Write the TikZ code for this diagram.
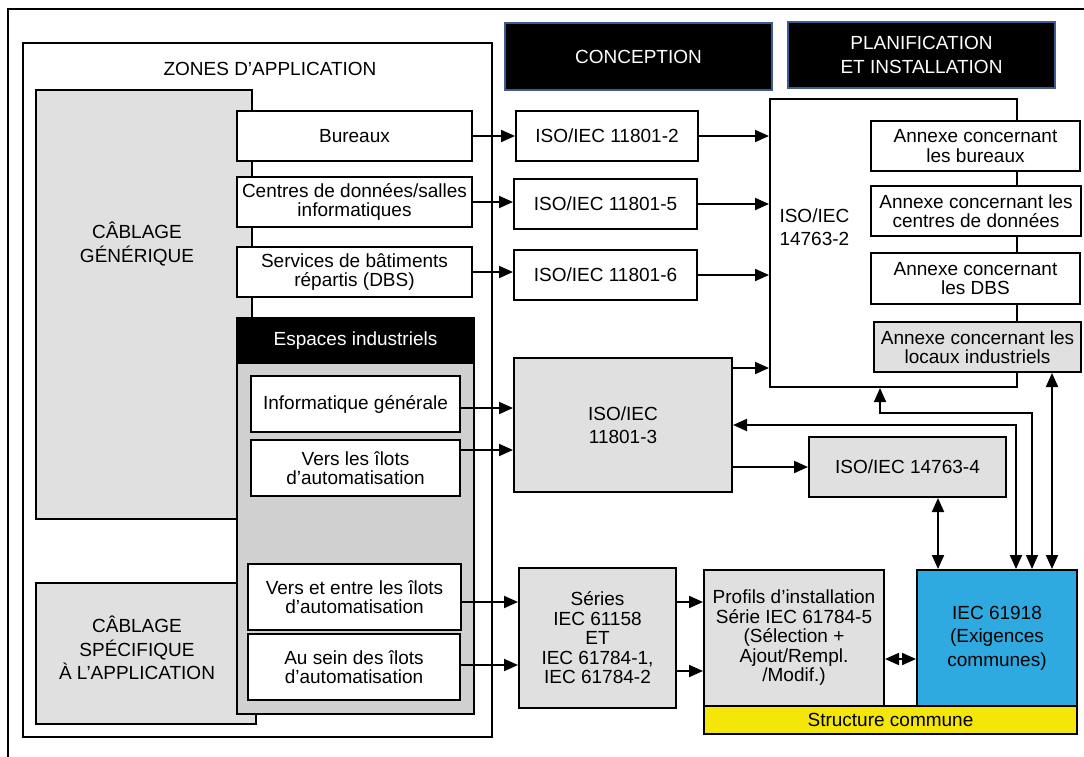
\documentclass[tikz,border=0pt]{standalone}
\usepackage{fontspec}
\setmainfont{Liberation Sans}
\usetikzlibrary{arrows.meta}
\definecolor{lgray}{HTML}{E0E0E0}
\definecolor{mgray}{HTML}{D0D0D0}
\definecolor{iecblue}{HTML}{2EAAE1}
\definecolor{ylw}{HTML}{F5E60A}
\definecolor{hdrblue}{HTML}{3E5C92}
\begin{document}
\begin{tikzpicture}[x=1pt,y=-1pt,font=\fontsize{19}{19.5}\selectfont]
\tikzset{Box/.style={draw,line width=2pt,inner sep=0pt,align=center}}
\tikzset{Airy/.style={font=\fontsize{19}{23.5}\selectfont}}
\tikzset{Head/.style={Box,fill=black,text=white,draw=hdrblue,line width=2pt}}
\tikzset{Arr/.style={line width=2pt,-{Triangle[length=14pt,width=12pt]}}}
\tikzset{DArr/.style={line width=2pt,{Triangle[length=14pt,width=12pt]}-{Triangle[length=14pt,width=12pt]}}}
\useasboundingbox (0,0) rectangle (1084,756);
\draw[line width=2pt] (8,9) rectangle (1100,775);
\node[Box,minimum width=469pt,minimum height=694pt] (zones) at (257.5,390) {};
\node (zonestxt) at (270,69) {ZONES D’APPLICATION};
\node[Box,fill=lgray,minimum width=216pt,minimum height=429pt] (gen) at (144,304.5) {};
\node[Airy,align=center] (gentxt) at (137,244) {CÂBLAGE\\GÉNÉRIQUE};
\node[Box,fill=lgray,minimum width=220pt,minimum height=141pt] (spec) at (146,653.5) {};
\node[Airy,align=center] (spectxt) at (137,648) {CÂBLAGE\\SPÉCIFIQUE\\À L’APPLICATION};
\node[Box,fill=mgray,minimum width=237pt,minimum height=351pt] (indbody) at (355.5,538.5) {};
\node[Box,fill=black,text=white,minimum width=237pt,minimum height=45pt] (indhead) at (355.5,340.5) {Espaces industriels};
\node[Box,fill=white,minimum width=235pt,minimum height=50pt] (bur) at (354.5,136) {Bureaux};
\node[Box,fill=white,minimum width=235pt,minimum height=50pt] (dc) at (354.5,202) {Centres de données/salles\\informatiques};
\node[Box,fill=white,minimum width=235pt,minimum height=50pt] (dbs) at (354.5,272) {Services de bâtiments\\répartis (DBS)};
\node[Box,fill=white,minimum width=209pt,minimum height=56pt] (infg) at (355.5,404) {Informatique générale};
\node[Box,fill=white,minimum width=209pt,minimum height=56pt] (vli) at (355.5,468) {Vers les îlots\\d’automatisation};
\node[Box,fill=white,minimum width=213pt,minimum height=66pt] (vei) at (354.5,597) {Vers et entre les îlots\\d’automatisation};
\node[Box,fill=white,minimum width=212pt,minimum height=66pt] (asi) at (354,667) {Au sein des îlots\\d’automatisation};
\node[Head,minimum width=267pt,minimum height=67pt] (conc) at (638.5,56.5) {CONCEPTION};
\node[Head,Airy,minimum width=267pt,minimum height=66pt] (plan) at (921.5,55) {PLANIFICATION\\ET INSTALLATION};
\node[Box,minimum width=182pt,minimum height=50pt] (iso2) at (607,136) {ISO/IEC 11801-2};
\node[Box,minimum width=183pt,minimum height=50pt] (iso5) at (605.5,204) {ISO/IEC 11801-5};
\node[Box,minimum width=183pt,minimum height=50pt] (iso6) at (605.5,275) {ISO/IEC 11801-6};
\node[Box,fill=lgray,Airy,minimum width=218pt,minimum height=134pt] (iso3) at (623,425) {ISO/IEC\\11801-3};
\node[Box,minimum width=247pt,minimum height=288pt] (inst2) at (893.5,243) {};
\node[Airy,anchor=west,align=left] (inst2txt) at (776,227) {ISO/IEC\\14763-2};
\node[Box,fill=white,minimum width=209pt,minimum height=50pt] (anxb) at (975.5,146) {Annexe concernant\\les bureaux};
\node[Box,fill=white,minimum width=210pt,minimum height=50pt] (anxc) at (976,211) {Annexe concernant les\\centres de données};
\node[Box,fill=white,minimum width=209pt,minimum height=51pt] (anxd) at (975.5,278.5) {Annexe concernant\\les DBS};
\node[Box,fill=lgray,minimum width=207pt,minimum height=50pt] (anxi) at (977.5,347) {Annexe concernant les\\locaux industriels};
\node[Box,fill=lgray,minimum width=197pt,minimum height=60pt] (inst4) at (907.5,467) {ISO/IEC 14763-4};
\node[Box,fill=lgray,minimum width=157pt,minimum height=140pt] (ser) at (597.5,638) {Séries\\IEC 61158\\ET\\IEC 61784-1,\\IEC 61784-2};
\node[Box,fill=lgray,minimum width=180pt,minimum height=136pt] (prof) at (794,638) {Profils d’installation\\Série IEC 61784-5\\(Sélection +\\Ajout/Rempl.\\/Modif.)};
\node[Box,fill=iecblue,Airy,minimum width=160pt,minimum height=136pt] (iec) at (997,638) {IEC 61918\\(Exigences\\communes)};
\node[Box,fill=ylw,minimum width=373pt,minimum height=28pt] (struc) at (890.5,720) {Structure commune};
\draw[Arr] (bur.east) -- (iso2.west|-bur.east);
\draw[Arr] (dc.east) -- (iso5.west|-dc.east);
\draw[Arr] (dbs.east) -- (iso6.west|-dbs.east);
\draw[Arr] (iso2.east) -- (inst2.west|-iso2.east);
\draw[Arr] (iso5.east) -- (inst2.west|-iso5.east);
\draw[Arr] (iso6.east) -- (inst2.west|-iso6.east);
\coordinate (p1) at ([yshift=-11pt]iso3.north east);
\draw[Arr] (p1) -- (inst2.west|-p1);
\coordinate (p2) at ([yshift=-4pt]infg.east);
\draw[Arr] (p2) -- (iso3.west|-p2);
\coordinate (p3) at ([yshift=18pt]vli.east);
\draw[Arr] (p3) -- (iso3.west|-p3);
\draw[Arr] (iso3.east|-inst4.west) -- (inst4.west);
\coordinate (p4) at ([yshift=-5pt]vei.east);
\draw[Arr] (p4) -- (ser.west|-p4);
\coordinate (p5) at ([yshift=2pt]asi.east);
\draw[Arr] (p5) -- (ser.west|-p5);
\coordinate (p6) at ([yshift=36pt]ser.east);
\draw[Arr] (p6) -- (prof.west|-p6);
\coordinate (p7) at ([yshift=-33pt]ser.east);
\draw[Arr] (p7) -- (prof.west|-p7);
\coordinate (p8) at ([yshift=-21pt]prof.east);
\draw[DArr] (p8) -- (iec.west|-p8);
\coordinate (q1) at ([xshift=-59pt]iec.north);
\draw[DArr] (q1) -- (inst4.south-|q1);
\coordinate (q2) at ([xshift=19pt]iec.north);
\draw[DArr] (iso3.east) -| (q2);
\coordinate (q3) at ([xshift=35pt]iec.north);
\coordinate (q4) at ([xshift=-13.5pt]inst2.south);
\draw[DArr,line width=1.4pt] (q4) -- ++(0,25) -| (q3);
\coordinate (q5) at ([xshift=55pt]iec.north);
\draw[DArr] (q5) -- (anxi.south-|q5);
\end{tikzpicture}
\end{document}
